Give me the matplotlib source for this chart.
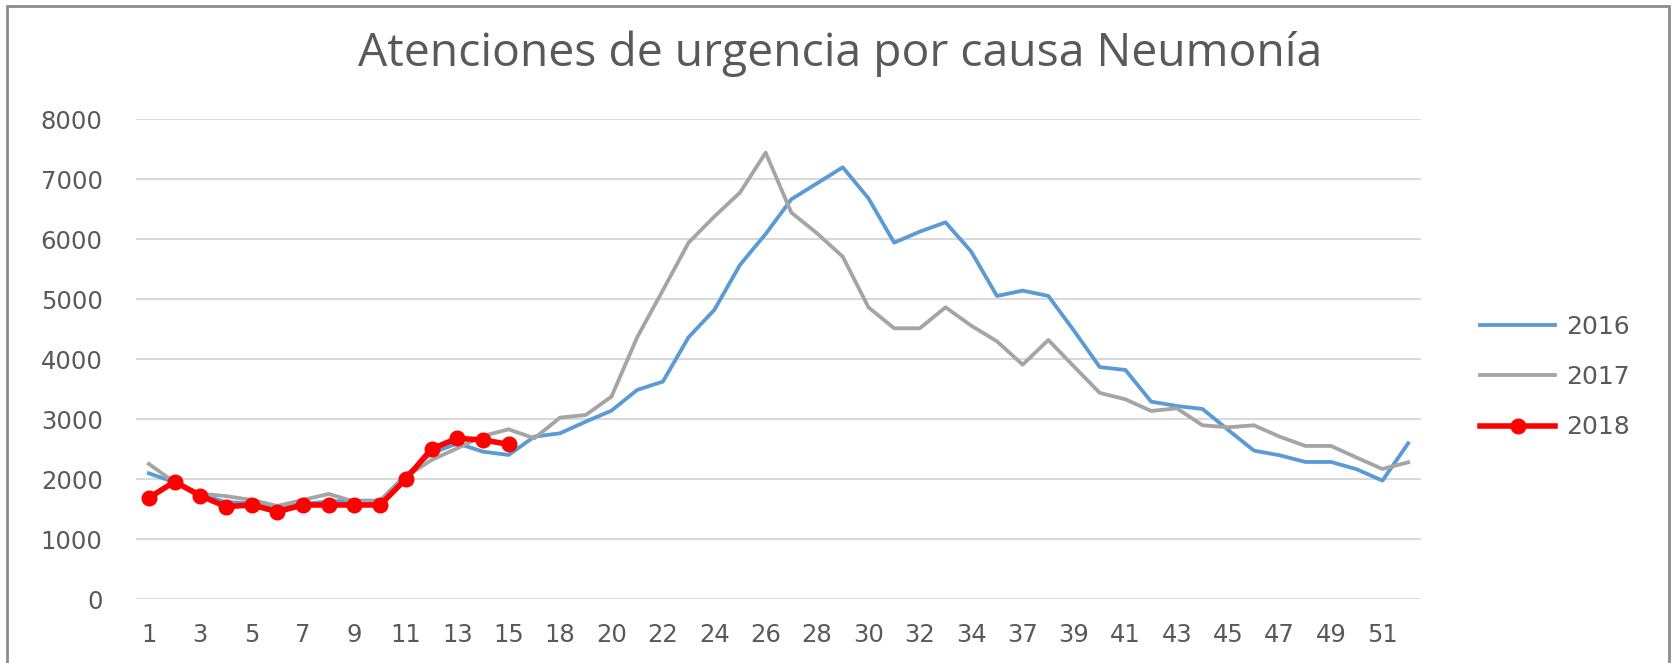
import numpy as np
import matplotlib
matplotlib.use('Agg')
from matplotlib import pyplot as plt
from matplotlib.patches import Rectangle

# semanas epidemiologicas (la 16 y la 35 no aparecen en el grafico)
weeks = list(range(1, 16)) + [17] + list(range(18, 35)) + [36] + list(range(37, 53))

y2016 = [2100, 1950, 1740, 1620, 1600, 1540, 1590, 1630, 1644, 1644,
         2072, 2433, 2600, 2461, 2406, 2711, 2767, 2961, 3144, 3489,
         3628, 4367, 4822, 5572, 6089, 6667, 6933, 7200, 6683, 5944,
         6128, 6283, 5794, 5056, 5144, 5056, 4475, 3870, 3822, 3294,
         3222, 3172, 2822, 2478, 2400, 2289, 2289, 2167, 1978, 2600]

y2017 = [2256, 1950, 1760, 1720, 1656, 1556, 1656, 1756, 1628, 1640,
         2044, 2322, 2517, 2722, 2833, 2683, 3028, 3072, 3378, 4367,
         5150, 5944, 6378, 6778, 7444, 6444, 6100, 5711, 4867, 4517,
         4517, 4867, 4560, 4300, 3910, 4322, 3878, 3440, 3333, 3139,
         3183, 2900, 2867, 2900, 2711, 2556, 2556, 2361, 2172, 2283]

y2018 = [1690, 1960, 1728, 1544, 1572, 1461, 1572, 1572, 1572, 1572,
         2006, 2506, 2683, 2656, 2583]

title = 'Atenciones de urgencia por causa Neumonía'
txt = '#595959'
num_font = ['DejaVu Sans']

W, H = 1672, 663
fig = plt.figure(figsize=(W / 100, H / 100), dpi=100)
ax = fig.add_axes([136 / W, 1 - 599.3 / H, (1421 - 136) / W, (599.3 - 119.3) / H])

x = np.arange(len(weeks))
ax.plot(x, y2016, color='#5B9BD5', lw=2.75, label='2016', zorder=3)
ax.plot(x, y2017, color='#A5A5A5', lw=2.75, label='2017', zorder=3)
ax.plot(x[:len(y2018)], y2018, color='#FF0000', lw=4, marker='o', ms=10.5,
        label='2018', zorder=4)

ax.set_xlim(-0.5, len(weeks) - 0.5)
ax.set_ylim(0, 8000)
ax.set_yticks(np.arange(0, 8001, 1000))
ax.set_xticks(x[::2])
ax.set_xticklabels([str(w) for w in weeks[::2]])
ax.grid(axis='y', color='#D9D9D9', lw=1.5)
ax.set_axisbelow(True)
for s in ax.spines.values():
    s.set_visible(False)
ax.tick_params(axis='both', length=0, labelsize=17.5, labelcolor=txt)
ax.tick_params(axis='y', pad=24)
ax.tick_params(axis='x', pad=17)
for lab in ax.get_xticklabels() + ax.get_yticklabels():
    lab.set_family(num_font)

fig.text(840 / W, 1 - 54 / H, title, ha='center', va='center', fontsize=33.3,
         color=txt, family=['Open Sans', 'DejaVu Sans'])

leg = fig.legend(loc='center left', bbox_to_anchor=(1480 / W, 1 - 377 / H),
                 frameon=False, borderpad=0, borderaxespad=0, handlelength=3.0,
                 handletextpad=0.45, labelspacing=1.05, prop={'family': num_font, 'size': 18})
for t in leg.get_texts():
    t.set_color(txt)

# marco del grafico
fig.patches.append(Rectangle((7 / W, -0.1), (1669 - 7) / W, 1.1 - 6 / H,
                             transform=fig.transFigure, fill=False,
                             edgecolor='#8C8C8C', lw=2))

fig.savefig('out.png', dpi=100)
